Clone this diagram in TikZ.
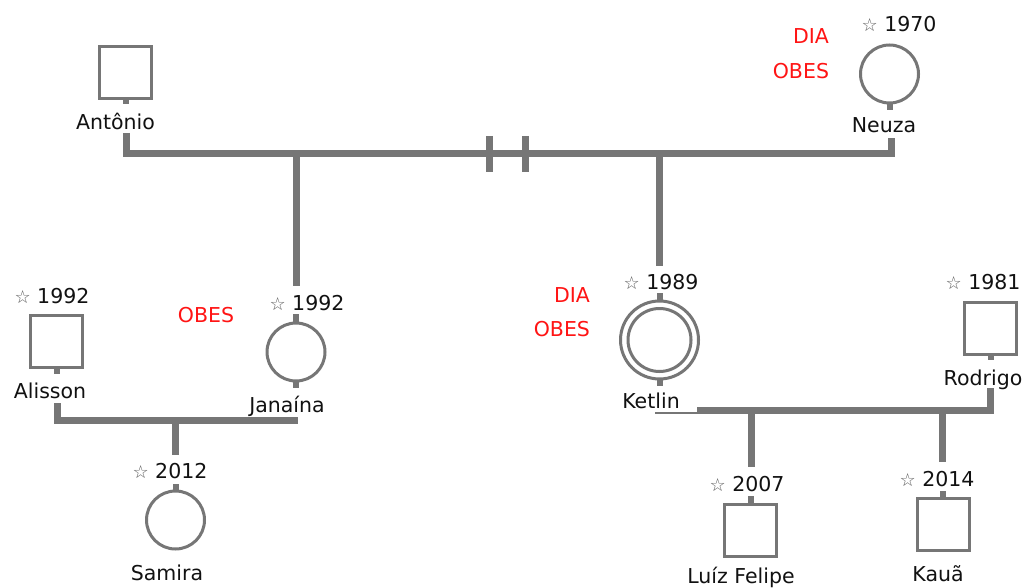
\documentclass[tikz,border=0pt]{standalone}
\usepackage{fontspec}
\setmainfont{DejaVu Sans}
\definecolor{lg}{RGB}{118,118,118}
\definecolor{stargray}{RGB}{95,95,95}
\definecolor{txt}{RGB}{17,17,17}
\definecolor{notered}{RGB}{255,20,20}
\newcommand\bstar{{\color{stargray}\fontsize{18}{24}\selectfont ☆}}
\begin{document}
\begin{tikzpicture}[x=1pt,y=-1pt,
  every node/.style={inner sep=0pt,outer sep=0pt,font=\fontsize{20.5}{24}\selectfont,text=txt},
  male/.style={draw=lg,line width=3pt,fill=white,minimum size=52pt},
  female/.style={draw=lg,line width=3pt,fill=white,circle,minimum size=58pt},
  lbl/.style={anchor=base},
  note/.style={anchor=base east,text=notered},
  rel/.style={draw=lg,line width=7pt,line join=miter},
  stub/.style={draw=lg,line width=6pt},
]
\useasboundingbox (0,0) rectangle (1024,588);

% ---------- Antonio & Neuza ----------
\node[male] (antonio) at (125.5,72.5) {};
\node[lbl] (antlbl) at (115.5,130) {Antônio};
\node[female] (neuza) at (889.5,74) {};
\node[lbl] (neuzalbl) at (884,133) {Neuza};
\node[lbl] (neuzayr) at (899,32) {\bstar{} 1970};
\node[note] (neuzadia) at (829,44) {DIA};
\node[note] (neuzaobes) at (829,79) {OBES};
\draw[stub] (antonio.south) -- ++(0,6);
\draw[stub] (neuza.south) -- ++(0,7);

\coordinate (a1) at (126,133);
\coordinate (a2) at (126,154);
\coordinate (n2) at (891,154);
\coordinate (n1) at (891,138);
\draw[rel] (a1) -- (a2) -- (n2) -- (n1);
\coordinate (b1t) at (489.5,136); \coordinate (b1b) at (489.5,172);
\coordinate (b2t) at (525.5,136); \coordinate (b2b) at (525.5,172);
\draw[rel] (b1t) -- (b1b);
\draw[rel] (b2t) -- (b2b);

% ---------- Janaina ----------
\coordinate (j0) at (296,154);
\coordinate (j1) at (296,286);
\draw[rel] (j0) -- (j1);
\node[female] (janaina) at (296,352) {};
\node[lbl] (janyr) at (307,310) {\bstar{} 1992};
\node[lbl] (janlbl) at (287,412) {Janaína};
\node[note,anchor=base] (janobes) at (206,322) {OBES};
\draw[stub] (janaina.north) -- ++(0,-9);
\draw[stub] (janaina.south) -- ++(0,7);

% ---------- Alisson ----------
\node[male] (alisson) at (56.5,341.5) {};
\node[lbl] (alyr) at (52,303) {\bstar{} 1992};
\node[lbl] (allbl) at (50,398) {Alisson};
\draw[stub] (alisson.south) -- ++(0,6);
\coordinate (al1) at (57,403);
\coordinate (al2) at (57,420);
\coordinate (al3) at (298,420);
\draw[rel] (al1) -- (al2) -- (al3);

% ---------- Samira ----------
\coordinate (s0) at (175.5,420);
\coordinate (s1) at (175.5,455);
\draw[rel] (s0) -- (s1);
\node[female] (samira) at (175.5,520) {};
\node[lbl] (samyr) at (170,478) {\bstar{} 2012};
\node[lbl] (samlbl) at (167,580) {Samira};
\draw[stub] (samira.north) -- ++(0,-7);

% ---------- Ketlin ----------
\coordinate (k0) at (659.5,154);
\coordinate (k1) at (659.5,266);
\draw[rel] (k0) -- (k1);
\node[female,minimum size=78pt] (ketlin) at (659.5,340) {};
\node[draw=lg,line width=3pt,circle,minimum size=63pt] (ketlinin) at (659.5,340) {};
\node[lbl] (ketyr) at (661,289) {\bstar{} 1989};
\node[lbl] (ketlbl) at (651,408) {Ketlin};
\node[note] (ketdia) at (590,302) {DIA};
\node[note] (ketobes) at (590,336) {OBES};
\draw[stub] (ketlin.north) -- ++(0,-8);
\draw[stub] (ketlin.south) -- ++(0,7);

% ---------- Rodrigo ----------
\node[male] (rodrigo) at (990.5,328) {};
\node[lbl] (rodyr) at (983,289) {\bstar{} 1981};
\node[lbl] (rodlbl) at (983,385) {Rodrigo};
\draw[stub] (rodrigo.south) -- ++(0,6);
\coordinate (r1) at (990.5,388);
\coordinate (r2) at (990.5,410.5);
\coordinate (r3) at (697,410.5);
\draw[rel] (r1) -- (r2) -- (r3);
\coordinate (kt1) at (655,413);
\coordinate (kt2) at (697,413);
\draw[draw=lg,line width=1.5pt] (kt1) -- (kt2);

% ---------- Luiz Felipe ----------
\coordinate (l0) at (751,410.5);
\coordinate (l1) at (751,467);
\draw[rel] (l0) -- (l1);
\node[male] (luiz) at (750.5,530) {};
\node[lbl] (luizyr) at (747,491) {\bstar{} 2007};
\node[lbl] (luizlbl) at (741,583) {Luíz Felipe};
\draw[stub] (luiz.north) -- ++(0,-8);

% ---------- Kaua ----------
\coordinate (ka0) at (942.5,410.5);
\coordinate (ka1) at (942.5,462);
\draw[rel] (ka0) -- (ka1);
\node[male] (kaua) at (943,524.5) {};
\node[lbl] (kauayr) at (937,486) {\bstar{} 2014};
\node[lbl] (kaualbl) at (938,581) {Kauã};
\draw[stub] (kaua.north) -- ++(0,-8);
\end{tikzpicture}
\end{document}
